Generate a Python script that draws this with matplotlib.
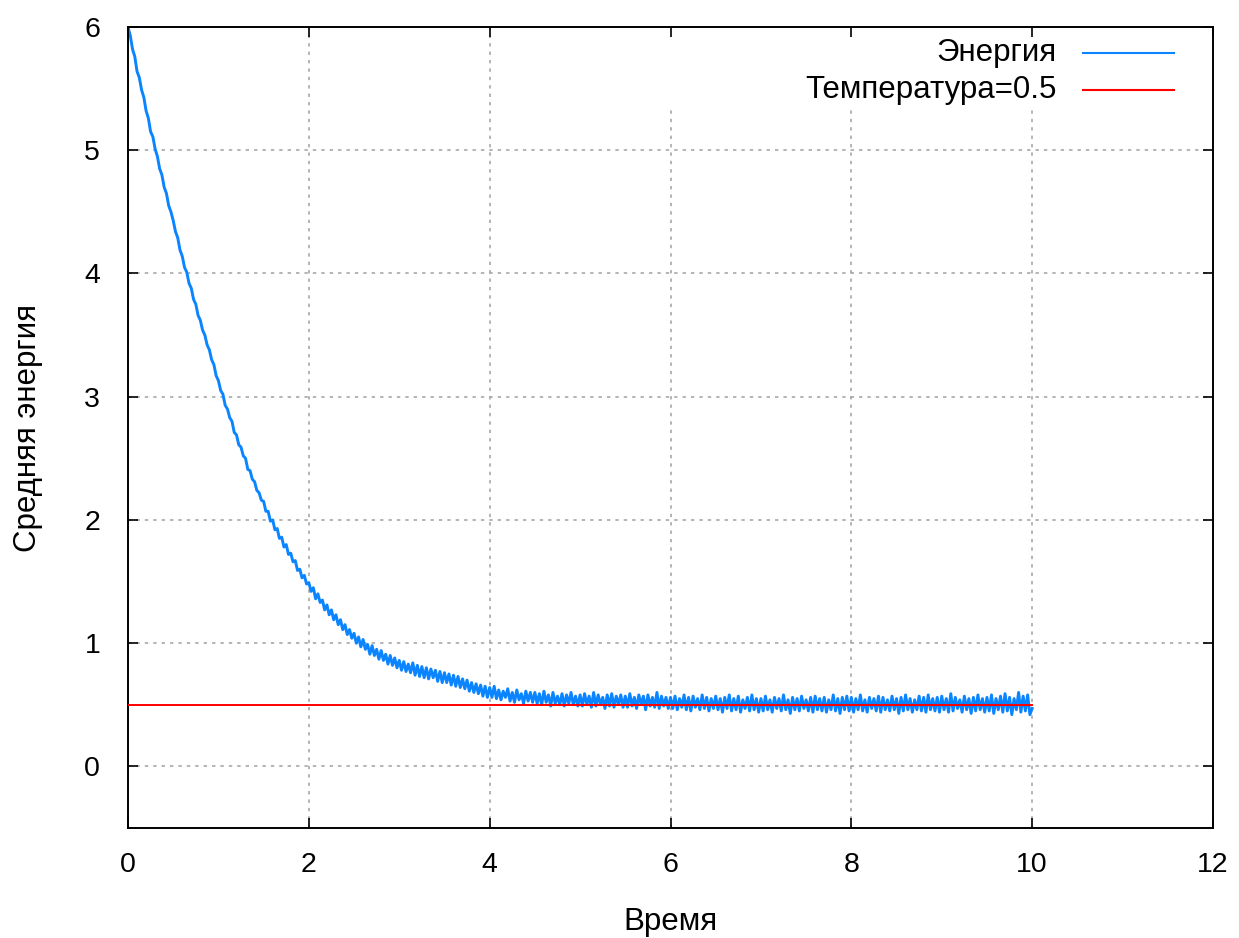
import numpy as np
import matplotlib
matplotlib.use("Agg")
import matplotlib.pyplot as plt
from matplotlib.lines import Line2D
from matplotlib.patches import Rectangle

plt.rcParams['font.family'] = ['Liberation Sans', 'DejaVu Sans']

# ---- data ----
time_step = 0.025
energy = [
    # 0.0 - 0.475
    6.00, 5.93, 5.82, 5.76, 5.64, 5.59, 5.49, 5.43, 5.32, 5.26, 5.15, 5.11, 5.01, 4.95, 4.85, 4.80, 4.70, 4.65, 4.55, 4.50,
    # 0.5 - 0.975
    4.43, 4.34, 4.29, 4.19, 4.14, 4.05, 4.01, 3.92, 3.88, 3.79, 3.75, 3.66, 3.62, 3.54, 3.50, 3.42, 3.38, 3.30, 3.26, 3.17,
    # 1.0 - 1.475
    3.13, 3.05, 3.02, 2.93, 2.90, 2.83, 2.80, 2.71, 2.69, 2.61, 2.59, 2.52, 2.50, 2.41, 2.40, 2.33, 2.31, 2.24, 2.22, 2.16,
    # 1.5 - 1.975
    2.15, 2.07, 2.07, 1.99, 2.00, 1.92, 1.93, 1.85, 1.86, 1.78, 1.80, 1.72, 1.73, 1.66, 1.67, 1.59, 1.60, 1.53, 1.55, 1.48,
    # 2.0 - 2.475
    1.49, 1.42, 1.45, 1.36, 1.40, 1.33, 1.35, 1.27, 1.31, 1.23, 1.27, 1.19, 1.23, 1.15, 1.19, 1.11, 1.15, 1.07, 1.11, 1.04,
    # 2.5 - 2.975
    1.08, 1.00, 1.05, 0.97, 1.03, 0.95, 0.99, 0.91, 0.98, 0.90, 0.95, 0.87, 0.94, 0.86, 0.91, 0.83, 0.90, 0.82, 0.88, 0.80,
    # 3.0 - 3.475
    0.86, 0.78, 0.85, 0.77, 0.83, 0.76, 0.84, 0.74, 0.82, 0.73, 0.81, 0.72, 0.80, 0.71, 0.79, 0.72, 0.78, 0.69, 0.77, 0.68,
    # 3.5 - 3.975
    0.76, 0.68, 0.75, 0.66, 0.74, 0.65, 0.73, 0.64, 0.71, 0.63, 0.70, 0.61, 0.68, 0.60, 0.67, 0.59, 0.66, 0.57, 0.65, 0.56,
    # 4.0 - 4.475
    0.64, 0.56, 0.65, 0.55, 0.62, 0.54, 0.61, 0.56, 0.63, 0.53, 0.60, 0.52, 0.62, 0.54, 0.59, 0.51, 0.61, 0.53, 0.60, 0.52,
    # 4.5 - 4.975
    0.60, 0.51, 0.59, 0.50, 0.61, 0.52, 0.58, 0.49, 0.60, 0.51, 0.57, 0.50, 0.59, 0.49, 0.58, 0.51, 0.60, 0.50, 0.57, 0.49,
    # 5.0 - 5.475
    0.58, 0.49, 0.59, 0.50, 0.57, 0.48, 0.60, 0.49, 0.58, 0.50, 0.56, 0.47, 0.58, 0.49, 0.59, 0.48, 0.57, 0.50, 0.58, 0.48,
    # 5.5 - 5.975
    0.57, 0.48, 0.59, 0.49, 0.56, 0.47, 0.58, 0.50, 0.57, 0.46, 0.58, 0.49, 0.56, 0.48, 0.60, 0.47, 0.57, 0.49, 0.56, 0.47,
    # 6.0 - 6.475
    0.56, 0.47, 0.57, 0.46, 0.55, 0.48, 0.58, 0.46, 0.56, 0.45, 0.57, 0.48, 0.55, 0.46, 0.58, 0.47, 0.56, 0.45, 0.55, 0.47,
    # 6.5 - 6.975
    0.57, 0.46, 0.55, 0.44, 0.56, 0.47, 0.58, 0.45, 0.55, 0.46, 0.57, 0.44, 0.54, 0.47, 0.56, 0.45, 0.58, 0.46, 0.55, 0.44,
    # 7.0 - 7.475
    0.55, 0.45, 0.57, 0.46, 0.54, 0.44, 0.56, 0.47, 0.55, 0.45, 0.58, 0.46, 0.54, 0.43, 0.56, 0.46, 0.55, 0.45, 0.57, 0.47,
    # 7.5 - 7.975
    0.54, 0.45, 0.56, 0.44, 0.57, 0.46, 0.55, 0.45, 0.56, 0.44, 0.54, 0.46, 0.58, 0.45, 0.55, 0.43, 0.56, 0.46, 0.57, 0.45,
    # 8.0 - 8.475
    0.56, 0.44, 0.55, 0.46, 0.58, 0.45, 0.54, 0.44, 0.56, 0.47, 0.55, 0.45, 0.57, 0.44, 0.56, 0.46, 0.54, 0.45, 0.57, 0.46,
    # 8.5 - 8.975
    0.55, 0.43, 0.56, 0.45, 0.58, 0.46, 0.55, 0.44, 0.54, 0.46, 0.57, 0.45, 0.56, 0.44, 0.58, 0.46, 0.55, 0.45, 0.56, 0.44,
    # 9.0 - 9.475
    0.57, 0.46, 0.55, 0.44, 0.59, 0.45, 0.56, 0.47, 0.54, 0.44, 0.57, 0.46, 0.55, 0.43, 0.56, 0.45, 0.58, 0.46, 0.55, 0.44,
    # 9.5 - 9.975
    0.56, 0.45, 0.58, 0.43, 0.55, 0.46, 0.57, 0.44, 0.59, 0.45, 0.56, 0.42, 0.55, 0.46, 0.60, 0.44, 0.57, 0.45, 0.58, 0.42,
    # 10.0
    0.47,
]
time = [i * time_step for i in range(len(energy))]
temperature = 0.5
temp_range = [0, 10]

x_ticks = [0, 2, 4, 6, 8, 10, 12]
y_ticks = [0, 1, 2, 3, 4, 5, 6]
x_label = "Время"
y_label = "Средняя энергия"
legend_labels = ["Энергия", "Температура=0.5"]

blue = "#0a84ff"
red = "#ff0000"
FS = 20.5
FS_TXT = 22.5

fig = plt.figure(figsize=(12.39, 9.38), dpi=100)
ax = fig.add_axes([128 / 1239, 110 / 938, 1085 / 1239, 801 / 938])

ax.set_xlim(0, 12)
ax.set_ylim(-0.5, 6)
ax.set_xticks(x_ticks)
ax.set_yticks(y_ticks)
ax.tick_params(direction='in', length=7, width=1.2, top=True, right=True,
               labelsize=FS, colors='black')
ax.tick_params(axis='y', pad=20)
ax.tick_params(axis='x', pad=17)
for sp in ax.spines.values():
    sp.set_linewidth(1.4)
    sp.set_color('black')

# grid drawn manually so the key box can hide part of it
for xv in x_ticks[1:-1]:
    ax.axvline(xv, color='#a0a0a0', linestyle=(0, (2.2, 3.3)), linewidth=1.1, zorder=0.5)
for yv in y_ticks[:-1]:
    ax.axhline(yv, color='#a0a0a0', linestyle=(0, (2.2, 3.3)), linewidth=1.1, zorder=0.5)

ax.add_patch(Rectangle((0.49, 0.899), 0.51, 0.101, transform=ax.transAxes,
                       facecolor='white', edgecolor='none', zorder=1))

ax.plot(time, energy, color=blue, linewidth=2.1, zorder=2)
ax.plot(temp_range, [temperature, temperature], color=red, linewidth=1.4, zorder=3)

ax.set_xlabel(x_label, fontsize=FS_TXT)
ax.set_ylabel(y_label, fontsize=FS_TXT)
ax.xaxis.set_label_coords(0.5, -0.117)
ax.xaxis.label.set_va('center')
ax.yaxis.set_label_coords(-0.0925, 0.5)
ax.yaxis.label.set_va('center')

# key (top right, text right-aligned, sample to the right)
rows_y = [0.9675, 0.9213]
for lab, col, yy in zip(legend_labels, [blue, red], rows_y):
    ax.text(0.8562, yy, lab, transform=ax.transAxes, ha='right', va='center',
            fontsize=FS_TXT, zorder=4)
    ax.add_line(Line2D([0.8802, 0.9641], [yy, yy], transform=ax.transAxes,
                       color=col, linewidth=1.5, zorder=4))

fig.savefig("out.png", dpi=100)
